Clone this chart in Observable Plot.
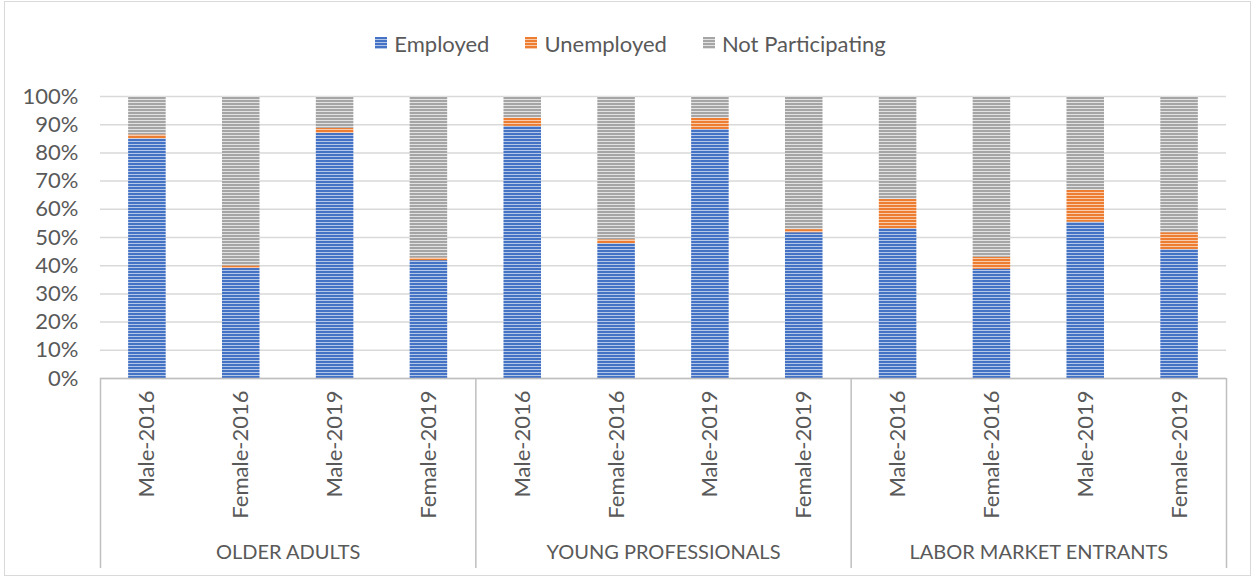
<!DOCTYPE html>
<html>
<head>
<meta charset="utf-8">
<script src="https://cdn.jsdelivr.net/npm/d3@7"></script>
<script src="https://cdn.jsdelivr.net/npm/@observablehq/plot@0.6"></script>
<style>
  html, body { margin: 0; padding: 0; background: #fff; }
  #wrap { position: relative; width: 1253px; height: 577px; overflow: hidden; font-family: Lato, sans-serif; color: #595959; }
  #border { position: absolute; left: 4px; top: 1px; width: 1245px; height: 573px; border: 1px solid #d9d9d9; pointer-events: none; }
  #legend { height: 70px; display: flex; justify-content: center; align-items: center; font-size: 22px; padding-top: 16px; box-sizing: border-box; padding-left: 8px; }
  .item { display: flex; align-items: center; margin: 0 18px; }
  .sw { width: 12px; height: 12px; margin-right: 7px; }
  #chart svg { display: block; overflow: visible; }
</style>
</head>
<body>
<div id="wrap">
  <div id="legend"></div>
  <div id="chart"></div>
  <div id="border"></div>
</div>
<script>
// ---- data ----
const groups = ["OLDER ADULTS", "YOUNG PROFESSIONALS", "LABOR MARKET ENTRANTS"];
const categories = ["Male-2016", "Female-2016", "Male-2019", "Female-2019"];
const statuses = ["Employed", "Unemployed", "Not Participating"];
// order: group by group, category by category
const employed         = [85.0, 39.0, 86.9, 41.8,  89.4, 47.8, 88.3, 51.7,  53.1, 38.7, 55.4, 45.7];
const unemployed       = [ 1.4,  0.9,  1.8,  0.9,   2.9,  1.4,  4.0,  1.1,  10.4,  4.3, 11.3,  6.0];
const notParticipating = [13.6, 60.1, 11.3, 57.3,   7.7, 50.8,  7.7, 47.2,  36.5, 57.0, 33.3, 48.3];
const yTicks = [0, 10, 20, 30, 40, 50, 60, 70, 80, 90, 100];

const seriesColors = { "Employed": ["#4472c4", "#b4c7e7"], "Unemployed": ["#ed7d31", "#f8cbad"], "Not Participating": ["#a5a5a5", "#e2e2e2"] };
const patternIds = { "Employed": "pEmp", "Unemployed": "pUnemp", "Not Participating": "pNot" };

// ---- build table ----
const keys = [];
groups.forEach(g => categories.forEach(c => keys.push(g + "|" + c)));
const seriesValues = [employed, unemployed, notParticipating];
const data = [];
keys.forEach((k, i) => {
  statuses.forEach((s, j) => data.push({ key: k, status: s, value: seriesValues[j][i] }));
});

// ---- legend ----
const legend = document.getElementById("legend");
statuses.forEach(s => {
  const [c1, c2] = seriesColors[s];
  const it = document.createElement("div");
  it.className = "item";
  it.innerHTML = `<span class="sw" style="background: repeating-linear-gradient(to bottom, ${c1} 0px, ${c1} 2px, ${c2} 2px, ${c2} 3px);"></span><span>${s}</span>`;
  legend.appendChild(it);
});

// ---- chart ----
const W = 1253, H = 507, ML = 100, MR = 27, MT = 26, MB = 199;
const step = (W - ML - MR) / keys.length;
const labelY = -61.7;     // group label position below axis (in y units)
const sepBottom = -67.4;  // separator bottom (in y units)

const firstKeys = groups.map(g => g + "|" + categories[0]);
const lastKey = [keys[keys.length - 1]];
const midKeys = groups.map(g => ({ g, k: g + "|" + categories[1] }));

const plot = Plot.plot({
  width: W, height: H,
  marginLeft: ML, marginRight: MR, marginTop: MT, marginBottom: MB,
  style: { fontFamily: "Lato, sans-serif", fontSize: "22px", color: "#595959", background: "transparent", overflow: "visible" },
  x: { domain: keys, round: false, paddingInner: 0.6, paddingOuter: 0.3, tickFormat: k => k.split("|")[1], tickRotate: -90, tickSize: 0, tickPadding: 12, label: null },
  y: { domain: [0, 100], ticks: yTicks, tickFormat: d => d + "%", tickSize: 0, tickPadding: 22, label: null },
  color: { domain: statuses, range: statuses.map(s => `url(#${patternIds[s]})`) },
  marks: [
    Plot.ruleY(yTicks, { stroke: "#d9d9d9", strokeWidth: 1.5 }),
    Plot.barY(data, { x: "key", y: "value", fill: "status", order: statuses }),
    Plot.ruleY([0], { stroke: "#bfbfbf", strokeWidth: 1.5 }),
    Plot.ruleX(firstKeys, { x: d => d, y1: 0, y2: sepBottom, dx: -step / 2, stroke: "#bfbfbf", strokeWidth: 1.5 }),
    Plot.ruleX(lastKey, { x: d => d, y1: 0, y2: sepBottom, dx: step / 2, stroke: "#bfbfbf", strokeWidth: 1.5 }),
    Plot.text(midKeys, { x: "k", y: () => labelY, dx: step / 2, text: "g", fill: "#595959", fontSize: 20 })
  ]
});

// patterns
const defs = d3.select(plot).insert("defs", ":first-child");
statuses.forEach(s => {
  const [c1, c2] = seriesColors[s];
  const p = defs.append("pattern").attr("id", patternIds[s]).attr("patternUnits", "userSpaceOnUse")
    .attr("width", 8).attr("height", 3);
  p.append("rect").attr("width", 8).attr("height", 3).attr("fill", c2);
  p.append("rect").attr("width", 8).attr("height", 2).attr("fill", c1);
});

document.getElementById("chart").appendChild(plot);
</script>
</body>
</html>
